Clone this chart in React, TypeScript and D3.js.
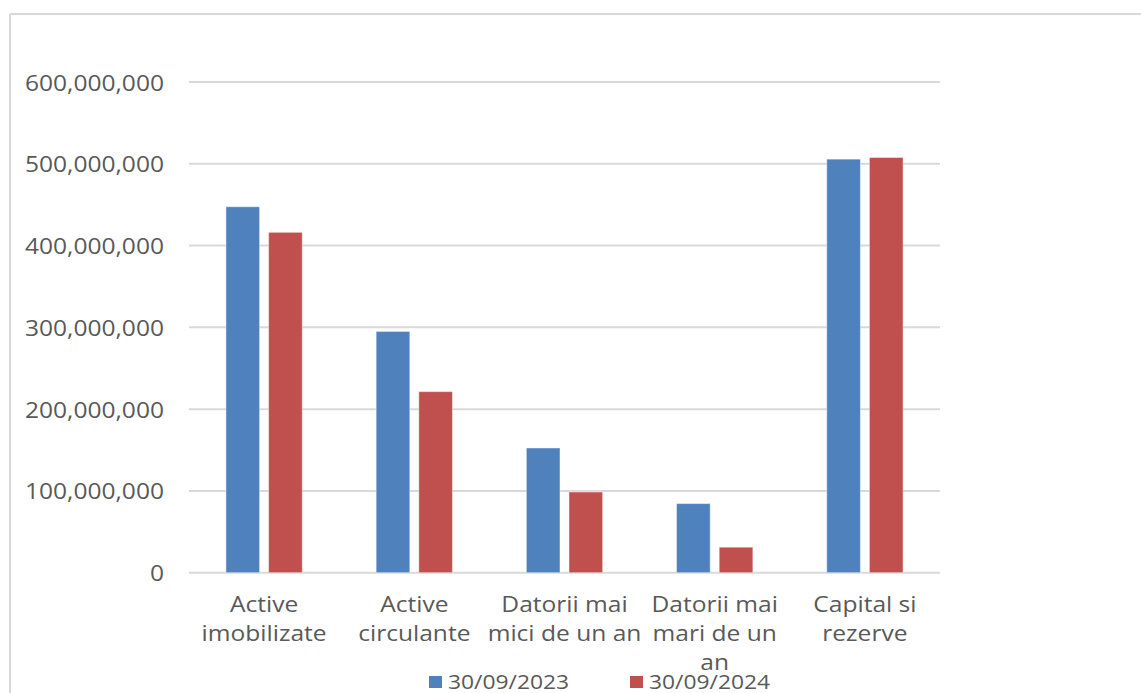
import * as React from 'react';
import * as d3 from 'd3';

const categories = [
  'Active imobilizate',
  'Active circulante',
  'Datorii mai mici de un an',
  'Datorii mai mari de un an',
  'Capital si rezerve',
];
// wrapped tick labels, as Excel broke them
const categoryLines = [
  ['Active', 'imobilizate'],
  ['Active', 'circulante'],
  ['Datorii mai', 'mici de un an'],
  ['Datorii mai', 'mari de un', 'an'],
  ['Capital si', 'rezerve'],
];
const seriesNames = ['30/09/2023', '30/09/2024'];
const values2023 = [447500000, 295000000, 152500000, 84500000, 505700000];
const values2024 = [416200000, 221400000, 98700000, 31200000, 507700000];
const yTicks = [0, 100000000, 200000000, 300000000, 400000000, 500000000, 600000000];

const W = 1141;
const H = 693;
const colors = ['#4F81BD', '#C0504D'];
const textColor = '#595959';
const gridColor = '#D9D9D9';
const font = "'Open Sans', sans-serif";
const sx = 1.17;

export default function App() {
  const x0 = d3.scaleBand<string>().domain(categories).range([189, 940]);
  const x1 = d3.scaleBand<string>()
    .domain(seriesNames)
    .range([0, x0.bandwidth()])
    .paddingInner(0.211)
    .paddingOuter(0.866);
  const y = d3.scaleLinear().domain([0, 600000000]).range([572.7, 82]);
  const fmt = d3.format(',');
  const series = [values2023, values2024];

  return (
    <svg width={W} height={H} style={{ position: 'absolute', left: 0, top: 0, background: '#fff' }}>
      {/* chart frame */}
      <line x1={10} y1={14} x2={W} y2={14} stroke={gridColor} strokeWidth={2} />
      <line x1={10} y1={14} x2={10} y2={H} stroke={gridColor} strokeWidth={2} />

      {yTicks.map((t) => (
        <g key={t}>
          <line x1={189} x2={940} y1={y(t)} y2={y(t)} stroke={gridColor} strokeWidth={2} />
          <text
            transform={`translate(164,${y(t) + 8.5}) scale(${sx},1)`}
            textAnchor="end"
            fontFamily={font}
            fontSize={21}
            fill={textColor}
          >
            {fmt(t)}
          </text>
        </g>
      ))}

      {series.map((vals, si) =>
        vals.map((v, ci) => (
          <rect
            key={`${si}-${ci}`}
            x={x0(categories[ci])! + x1(seriesNames[si])!}
            width={x1.bandwidth()}
            y={y(v)}
            height={y(0) - y(v)}
            fill={colors[si]}
            stroke="rgba(255,255,255,0.45)"
            strokeWidth={1}
          />
        ))
      )}

      {categoryLines.map((lines, ci) => (
        <g key={ci}>
          {lines.map((ln, li) => (
            <text
              key={li}
              transform={`translate(${x0(categories[ci])! + x0.bandwidth() / 2},${612 + li * 29}) scale(${sx},1)`}
              textAnchor="middle"
              fontFamily={font}
              fontSize={21}
              fill={textColor}
            >
              {ln}
            </text>
          ))}
        </g>
      ))}

      {/* legend */}
      {seriesNames.map((s, i) => (
        <g key={s} transform={`translate(${429 + i * 201},0)`}>
          <rect x={0} y={676} width={13} height={12} fill={colors[i]} />
          <text
            transform={`translate(19,688.5) scale(${sx},1)`}
            fontFamily={font}
            fontSize={19.5}
            fill={textColor}
          >
            {s}
          </text>
        </g>
      ))}
    </svg>
  );
}
